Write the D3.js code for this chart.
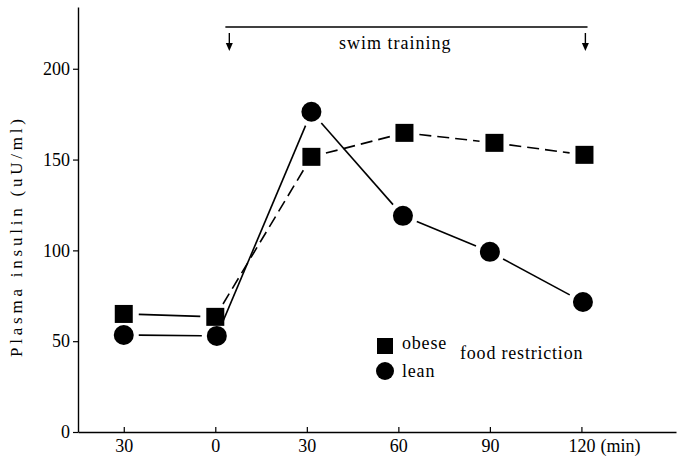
<!DOCTYPE html>
<html>
<head>
<meta charset="utf-8">
<script src="https://cdn.jsdelivr.net/npm/d3@7"></script>
<style>
  body { margin: 0; background: #fff; }
  svg text { font-family: "Liberation Serif", "Times New Roman", Times, "DejaVu Serif", serif; fill: #000; }
</style>
</head>
<body>
<div id="chart"></div>
<script>
// values
let xTicks = [-30, 0, 30, 60, 90, 120];
let yTicks = [0, 50, 100, 150, 200];
let obeseTime = [-30, 0, 31.5, 62, 91.5, 121];
let obeseInsulin = [65, 63.4, 151.5, 164.7, 159.2, 152.6];
let leanTime = [-30, 0.5, 31.5, 61.5, 90, 120.5];
let leanInsulin = [53.4, 52.9, 176.3, 119, 99.2, 71.6];
let trainingSpan = [3.3, 122];
let trainingArrows = [4.6, 121.3];

let svgWidth = 680, svgHeight = 457;
let serif = '"Liberation Serif", "Times New Roman", Times, "DejaVu Serif", serif';

let svg = d3.select("#chart").append("svg")
  .attr("width", svgWidth)
  .attr("height", svgHeight)
  .attr("font-family", serif);

// scales
let x = d3.scaleLinear().domain([-45, 151]).range([78, 676]);
let y = d3.scaleLinear().domain([0, 234]).range([432, 7]);

// axes
let xAxis = d3.axisBottom(x)
  .tickValues(xTicks)
  .tickFormat(d => Math.abs(d))
  .tickSizeInner(-5)
  .tickSizeOuter(0)
  .tickPadding(7);
let yAxis = d3.axisLeft(y)
  .tickValues(yTicks)
  .tickSizeInner(5)
  .tickSizeOuter(0)
  .tickPadding(3);

let gx = svg.append("g")
  .attr("transform", `translate(0, ${y(0)})`)
  .call(xAxis);
let gy = svg.append("g")
  .attr("transform", `translate(${x(-45)}, 0)`)
  .call(yAxis);

[gx, gy].forEach(g => {
  g.attr("font-family", serif).attr("font-size", 18);
  g.select(".domain").attr("stroke", "#000").attr("stroke-width", 1.4);
  g.selectAll(".tick line").attr("stroke", "#000").attr("stroke-width", 1.2);
});

svg.append("text")
  .attr("x", x(120) + 19)
  .attr("y", 452)
  .style("font-size", "18px")
  .text("(min)");

// y label
svg.append("text")
  .attr("transform", "translate(22, 238) rotate(-90)")
  .attr("text-anchor", "middle")
  .attr("textLength", 238)
  .attr("lengthAdjust", "spacing")
  .style("font-size", "17px")
  .text("Plasma  insulin  (uU/ml)");

// swim training bracket
svg.append("line")
  .attr("x1", x(trainingSpan[0])).attr("x2", x(trainingSpan[1]))
  .attr("y1", 27).attr("y2", 27)
  .attr("stroke", "#000").attr("stroke-width", 1.5);
trainingArrows.forEach(t => {
  let ax = x(t);
  svg.append("line")
    .attr("x1", ax).attr("x2", ax)
    .attr("y1", 33).attr("y2", 46)
    .attr("stroke", "#000").attr("stroke-width", 1.4);
  svg.append("path")
    .attr("d", `M${ax - 3.5},43 L${ax + 3.5},43 L${ax},51 Z`)
    .attr("fill", "#000");
});
svg.append("text")
  .attr("x", x(59))
  .attr("y", 49)
  .attr("text-anchor", "middle")
  .style("font-size", "18px")
  .style("letter-spacing", "1px")
  .text("swim  training");

// lines with gaps around the markers
function drawSegments(times, vals, gap, dashFrom) {
  for (let i = 0; i < times.length - 1; i++) {
    let x1 = x(times[i]), y1 = y(vals[i]);
    let x2 = x(times[i + 1]), y2 = y(vals[i + 1]);
    let len = Math.hypot(x2 - x1, y2 - y1);
    let ux = (x2 - x1) / len, uy = (y2 - y1) / len;
    svg.append("line")
      .attr("x1", x1 + ux * gap).attr("y1", y1 + uy * gap)
      .attr("x2", x2 - ux * gap).attr("y2", y2 - uy * gap)
      .attr("stroke", "#000")
      .attr("stroke-width", 1.6)
      .attr("stroke-dasharray", i >= dashFrom ? "12,6" : null);
  }
}
drawSegments(obeseTime, obeseInsulin, 15, 1);
drawSegments(leanTime, leanInsulin, 15, 99);

// markers
svg.selectAll(".sq")
  .data(obeseTime)
  .enter().append("rect")
  .attr("x", (d, i) => x(d) - 9)
  .attr("y", (d, i) => y(obeseInsulin[i]) - 9)
  .attr("width", 18).attr("height", 18)
  .attr("fill", "#000");
svg.selectAll(".ci")
  .data(leanTime)
  .enter().append("circle")
  .attr("cx", d => x(d))
  .attr("cy", (d, i) => y(leanInsulin[i]))
  .attr("r", 10)
  .attr("fill", "#000");

// legend
svg.append("rect")
  .attr("x", 377).attr("y", 338).attr("width", 16).attr("height", 16)
  .attr("fill", "#000");
svg.append("circle")
  .attr("cx", 385).attr("cy", 371).attr("r", 9)
  .attr("fill", "#000");
svg.append("text").attr("x", 402).attr("y", 349).style("font-size", "18px")
  .style("letter-spacing", "0.8px").text("obese");
svg.append("text").attr("x", 402).attr("y", 377).style("font-size", "18px")
  .style("letter-spacing", "0.8px").text("lean");
svg.append("text").attr("x", 460).attr("y", 359).style("font-size", "18px")
  .style("letter-spacing", "0.8px").text("food  restriction");
</script>
</body>
</html>
